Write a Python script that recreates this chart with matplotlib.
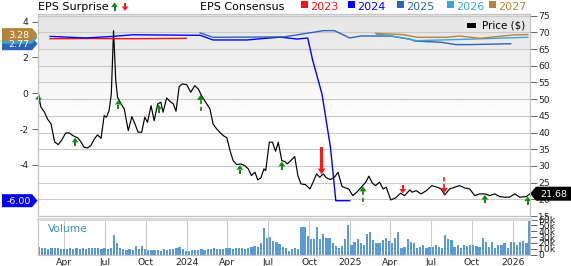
import numpy as np
import pandas as pd
import matplotlib
matplotlib.use("Agg")
import matplotlib.pyplot as plt
import matplotlib.dates as mdates
import matplotlib.transforms as mtransforms
from matplotlib.patches import Polygon, Rectangle
from matplotlib.lines import Line2D
from matplotlib.ticker import FixedLocator, FixedFormatter

plt.rcParams["font.family"] = ["DejaVu Sans"]
plt.rcParams["axes.unicode_minus"] = False

# ---------------- data ----------------
price_dates = [
    "2023-02-03", "2023-02-08", "2023-02-16", "2023-02-23", "2023-03-03", "2023-03-11", "2023-03-19", "2023-03-26", "2023-04-05", "2023-04-13",
    "2023-04-21", "2023-05-02", "2023-05-09", "2023-05-16", "2023-05-24", "2023-05-31", "2023-06-08", "2023-06-15", "2023-06-23", "2023-06-30",
    "2023-07-05", "2023-07-11", "2023-07-16", "2023-07-21", "2023-07-26", "2023-07-30", "2023-08-07", "2023-08-14", "2023-08-23", "2023-08-31",
    "2023-09-07", "2023-09-14", "2023-09-22", "2023-09-29", "2023-10-05", "2023-10-13", "2023-10-20", "2023-10-28", "2023-11-04", "2023-11-09",
    "2023-11-17", "2023-11-24", "2023-12-02", "2023-12-08", "2023-12-15", "2023-12-22", "2024-01-01", "2024-01-10", "2024-01-19", "2024-01-27",
    "2024-02-03", "2024-02-15", "2024-02-22", "2024-02-29", "2024-03-08", "2024-03-15", "2024-03-23", "2024-03-31", "2024-04-07", "2024-04-14",
    "2024-04-22", "2024-05-01", "2024-05-10", "2024-05-18", "2024-05-25", "2024-06-02", "2024-06-08", "2024-06-15", "2024-06-22", "2024-06-26",
    "2024-07-04", "2024-07-11", "2024-07-18", "2024-07-24", "2024-08-01", "2024-08-08", "2024-08-13", "2024-08-21", "2024-08-30", "2024-09-06",
    "2024-09-13", "2024-09-23", "2024-10-03", "2024-10-10", "2024-10-18", "2024-10-25", "2024-11-02", "2024-11-09", "2024-11-18", "2024-11-27",
    "2024-12-05", "2024-12-14", "2024-12-22", "2024-12-29", "2025-01-07", "2025-01-16", "2025-01-26", "2025-02-05", "2025-02-12", "2025-02-20",
    "2025-02-27", "2025-03-08", "2025-03-16", "2025-03-23", "2025-04-02", "2025-04-13", "2025-04-24", "2025-05-03", "2025-05-15", "2025-05-20",
    "2025-05-29", "2025-06-09", "2025-06-21", "2025-07-03", "2025-07-15", "2025-07-24", "2025-08-01", "2025-08-12", "2025-08-23", "2025-09-03",
    "2025-09-15", "2025-09-26", "2025-10-07", "2025-10-18", "2025-10-30", "2025-11-10", "2025-11-21", "2025-12-02", "2025-12-13", "2025-12-24",
    "2026-01-05", "2026-01-16", "2026-01-31", "2026-02-08",
]
prices = [
    51.56, 47.66, 46.17, 44.07, 42.57, 37.19, 36.38, 37.57, 39.88, 39.88,
    39.07, 38.38, 37.19, 35.60, 35.39, 36.08, 38.08, 39.28, 38.29, 45.06,
    44.58, 46.56, 51.56, 70.51, 55.54, 50.57, 48.56, 47.07, 40.57, 44.76,
    42.57, 40.09, 40.09, 44.58, 43.08, 48.05, 43.56, 48.56, 49.07, 46.08,
    50.36, 49.37, 48.56, 46.38, 53.74, 54.55, 54.34, 52.07, 54.04, 53.05,
    51.05, 48.56, 47.07, 42.57, 41.08, 40.09, 39.07, 38.38, 34.58, 31.59,
    30.39, 30.60, 30.09, 29.10, 27.10, 28.11, 25.81, 26.41, 29.10, 28.59,
    37.10, 37.10, 34.40, 37.10, 31.59, 31.29, 30.60, 31.59, 32.78, 27.10,
    24.61, 24.40, 23.11, 25.12, 27.60, 26.62, 27.60, 26.41, 25.90, 26.62,
    28.11, 23.80, 23.41, 23.11, 21.11, 22.13, 23.62, 25.12, 26.92, 24.82,
    24.10, 25.12, 23.11, 23.62, 19.82, 20.42, 21.83, 21.11, 22.81, 22.13,
    22.60, 21.62, 22.60, 24.10, 23.62, 23.11, 21.32, 23.11, 23.62, 24.10,
    23.41, 23.11, 21.11, 21.62, 21.62, 21.11, 21.62, 20.81, 20.63, 20.63,
    21.62, 20.63, 20.81, 21.68,
]

# weekly volume (thousands of shares)
volume_start = "2023-02-04"
volume_k = [
    13.3, 12, 10.4, 8.7, 10.4, 12, 10.4, 9.2, 8.7, 9.2,
    10.4, 9.2, 10.4, 9.2, 10.4, 9.2, 10.4, 11.5, 10.4, 12,
    9.2, 12, 9.2, 12, 33, 19, 12, 9.2, 7.5, 8.7,
    7.5, 14.4, 8.7, 15, 8.7, 7.5, 7.5, 6.9, 7.5, 6.3,
    8.7, 7.5, 8.7, 8.7, 10.4, 13.3, 8.7, 6.3, 6.3, 7.5,
    7.5, 7.5, 8.7, 7.5, 8.7, 9.2, 10.4, 8.7, 9.2, 8.7,
    10.4, 12, 8.7, 12, 10.4, 12, 8.7, 12, 13.3, 15,
    13.3, 20, 46, 28, 30, 24, 22, 18, 13,
    10.4, 6.3, 8.7, 10.4, 8.7, 48, 48, 32, 26.5,
    26.5, 47, 26.5, 36, 29, 27.7, 19, 15, 11.5, 15,
    26.5, 51, 17, 20.8, 26, 19, 16, 36, 38, 24.8,
    20, 19, 24.8, 29, 23, 19, 27.7, 39, 12, 13,
    26.5, 20.8, 19, 10.4, 13, 17, 10.4, 13, 13, 16,
    13, 12, 33, 26, 24.8, 13, 16, 12, 16, 15,
    17, 16, 15, 13, 29, 20.8, 13, 22, 12, 17,
    16, 19, 12, 20.8, 20.8, 17, 22, 24, 19, 58,
]

# EPS consensus by fiscal year
cons_2023_dates = ["2023-03-01", "2023-06-01", "2023-09-01", "2023-12-31"]
cons_2023 = [3.05, 3.06, 3.05, 3.07]
cons_2024_dates = ["2023-03-01", "2023-05-20", "2023-07-20", "2023-09-02", "2024-01-31", "2024-02-29",
                   "2024-05-15", "2024-07-28", "2024-09-04", "2024-09-28", "2024-10-09", "2024-10-30",
                   "2024-11-18", "2024-11-30", "2024-12-31"]
cons_2024 = [3.18, 3.09, 3.18, 3.27, 3.24, 2.98, 2.98, 3.14, 3.03, 3.09, 1.86, -0.04, -3.02, -6.00, -6.00]
cons_2025_dates = ["2024-01-31", "2024-02-29", "2024-08-06", "2024-11-03", "2024-11-27", "2024-12-31",
                   "2025-01-25", "2025-04-01", "2025-05-15", "2025-05-26", "2025-07-24", "2025-08-26",
                   "2025-09-27", "2025-12-27"]
cons_2025 = [3.37, 3.13, 3.15, 3.50, 3.50, 3.09, 3.20, 3.20, 3.03, 2.92, 2.85, 2.72, 2.72, 2.77]
cons_2026_dates = ["2025-03-02", "2025-04-01", "2025-05-31", "2025-09-20", "2026-02-03"]
cons_2026 = [3.30, 3.22, 2.94, 3.02, 3.13]
cons_2027_dates = ["2025-02-27", "2025-04-29", "2025-05-31", "2025-08-06", "2025-09-04", "2025-10-19",
                   "2026-01-01", "2026-02-03"]
cons_2027 = [3.35, 3.28, 3.13, 3.13, 3.20, 3.07, 3.26, 3.28]

years = ["2023", "2024", "2025", "2026", "2027"]
year_colors = ["#ff1010", "#0000ff", "#2a63b7", "#3ea3d8", "#b5843a"]

# EPS surprises: +1 beat (green up), -1 miss (red down)
surprise_dates = ["2023-02-03", "2023-04-26", "2023-08-01", "2023-10-30", "2024-02-01", "2024-04-29",
                  "2024-08-01", "2024-10-29", "2025-01-30", "2025-04-29", "2025-07-31", "2025-10-30",
                  "2026-02-03"]
surprise_dir = [1, 1, 1, 1, 1, 1, 1, -1, 1, -1, -1, 1, 1]
surprise_kind = ["small", "small", "small", "small", "dashed", "small", "small", "long",
                 "dashed", "small", "dashed", "small", "small"]

last_price = 21.68
last_eps = {"2025": 2.77, "2026": 3.13, "2027": 3.28, "2024": -6.00}

tick_dates = ["2023-04-01", "2023-07-01", "2023-10-01", "2024-01-01", "2024-04-01", "2024-07-01",
              "2024-10-01", "2025-01-01", "2025-04-01", "2025-07-01", "2025-10-01", "2026-01-01"]
tick_labels = ["Apr", "Jul", "Oct", "2024", "Apr", "Jul", "Oct", "2025", "Apr", "Jul", "Oct", "2026"]
eps_ticks = [-4, -2, 0, 2, 4]
price_ticks = [15, 20, 25, 30, 35, 40, 45, 50, 55, 60, 65, 70, 75]
vol_ticks = [0, 10000, 20000, 30000, 40000, 50000, 60000]
vol_tick_labels = ["0", "10k", "20k", "30k", "40k", "50k", "60k"]

# ---------------- layout ----------------
W, H = 571, 266
fig = plt.figure(figsize=(W / 100, H / 100), dpi=100)
fig.patch.set_facecolor("white")

def fx(px):
    return px / W

def fy(py):
    return 1 - py / H

# figure-pixel transform (x right, y down from top)
figpx = mtransforms.Affine2D().scale(1 / 100, -1 / 100).translate(0, H / 100) + fig.dpi_scale_trans

L, R = 38, 530
T_main, B_main = 14, 216
T_vol, B_vol = 219, 254.5

ax = fig.add_axes([fx(L), fy(B_main), (R - L) / W, (B_main - T_main) / H])
axp = ax.twinx()
axv = fig.add_axes([fx(L), fy(B_vol), (R - L) / W, (B_vol - T_vol) / H], sharex=ax)

ax.set_zorder(3)
axp.set_zorder(2)
ax.patch.set_visible(False)

xmin = pd.Timestamp("2023-02-01 18:00")
xmax = pd.Timestamp("2026-02-08 02:00")

# gradient background
t = np.linspace(0, 1, 200)  # 0 top -> 1 bottom
g = np.clip(0.895 + (1 - 0.895) * t / 0.55, 0, 1)
grad = np.column_stack([g, g])
axp.imshow(grad, cmap="gray", vmin=0, vmax=1, aspect="auto", extent=(0, 1, 0, 1),
           transform=axp.transAxes, zorder=0, interpolation="bilinear")

grid_c = "#c9c9c9"
axp.grid(True, color=grid_c, lw=0.8)
axv.grid(True, axis="x", color=grid_c, lw=0.8)
axv.grid(False, axis="y")

# price line
pdates = pd.to_datetime(price_dates)
axp.plot(pdates, prices, color="black", lw=0.85, zorder=4)

# consensus lines
cons = [(cons_2023_dates, cons_2023), (cons_2024_dates, cons_2024), (cons_2025_dates, cons_2025),
        (cons_2026_dates, cons_2026), (cons_2027_dates, cons_2027)]
for (d, v), c in zip(cons, year_colors):
    ax.plot(pd.to_datetime(d), v, color=c, lw=1.0, zorder=3)

# volume
vdates = pd.date_range(volume_start, periods=len(volume_k), freq="7D")
axv.bar(vdates, np.array(volume_k) * 1000, width=5.0, color="#5b9bd5", zorder=2)

# ---------------- axes formatting ----------------
ax.set_xlim(xmin, xmax)
ax.set_ylim(-6.855, 4.43)
axp.set_ylim(15.0, 75.5)
axv.set_ylim(0, 61200)

tnums = mdates.date2num(pd.to_datetime(tick_dates))
axv.xaxis.set_major_locator(FixedLocator(tnums))
axv.xaxis.set_major_formatter(FixedFormatter(tick_labels))
ax.tick_params(axis="x", length=0, labelbottom=False)
axp.tick_params(axis="x", length=0, labelbottom=False)
axv.tick_params(axis="x", length=0, pad=2.5, labelsize=6.7, labelcolor="#222222")

ax.set_yticks(eps_ticks)
ax.set_yticklabels([str(v) for v in eps_ticks])
ax.tick_params(axis="y", length=4.3, width=0.7, color="#666666", pad=2.5, labelsize=6.7,
               labelcolor="#222222")
axp.set_yticks(price_ticks)
axp.set_yticklabels([str(v) for v in price_ticks])
axp.tick_params(axis="y", length=5, width=0.7, color="#666666", pad=1, labelsize=6.7,
                labelcolor="#222222")

axv.yaxis.tick_right()
axv.set_yticks(vol_ticks)
axv.set_yticklabels(vol_tick_labels)
axv.tick_params(axis="y", length=5, width=0.7, color="#666666", pad=1, labelsize=6.7,
                labelcolor="#222222")

for a in (ax, axp):
    for s in a.spines.values():
        s.set_color("#c4c4c4")
        s.set_linewidth(0.8)
for s in axv.spines.values():
    s.set_color("#c4c4c4")
    s.set_linewidth(0.8)
axv.spines["top"].set_color("#dadada")
axv.spines["top"].set_linewidth(2.2)

axv.text(10 / (R - L), 0.73, "Volume", transform=axv.transAxes, color="#3d8bd0",
         fontsize=7.7, va="center", ha="left")

# ---------------- surprise arrows ----------------
snums = mdates.date2num(pd.to_datetime(surprise_dates))
pnums = mdates.date2num(pdates)
green, red = "#138a13", "#ff1a1a"

def draw_arrow(axx, xd, yd, s, kind, color):
    tr = mtransforms.ScaledTranslation(xd, yd, axx.transData)
    if kind == "small":
        hh, hw, sw, total, dashed = 4.6, 6.8, 2.0, 8.6, False
    elif kind == "dashed":
        hh, hw, sw, total, dashed = 5.2, 7.2, 1.7, 18.5, True
    else:
        hh, hw, sw, total, dashed = 6.0, 7.6, 2.3, 28.0, False
    tip = -s * 1.0
    hb = tip - s * hh
    end = tip - s * total
    axx.add_patch(Polygon([(0, tip), (-hw / 2, hb), (hw / 2, hb)], closed=True, transform=tr,
                          facecolor=color, edgecolor="none", zorder=6, clip_on=False))
    if dashed:
        axx.add_line(Line2D([0, 0], [hb, end], transform=tr, color=color, lw=sw * 0.72,
                            dashes=(2.4, 1.6), zorder=6, clip_on=False))
    else:
        axx.add_patch(Polygon([(-sw / 2, hb), (sw / 2, hb), (sw / 2, end), (-sw / 2, end)],
                              closed=True, transform=tr, facecolor=color, edgecolor="none",
                              zorder=6, clip_on=False))

for xd, d, k in zip(snums, surprise_dir, surprise_kind):
    yd = float(np.interp(xd, pnums, prices))
    draw_arrow(axp, xd, yd, d, k, green if d > 0 else red)

# ---------------- value labels ----------------
def left_label(val, color, txt=None):
    tr = mtransforms.ScaledTranslation(0, val, ax.get_yaxis_transform())
    ax.add_patch(Polygon([(-36, 6.5), (-6, 6.5), (-0.5, 0), (-6, -6.5), (-36, -6.5)], closed=True,
                         transform=tr, facecolor=color, edgecolor="none", zorder=10, clip_on=False))
    if txt:
        ax.annotate(txt, xy=(0, val), xycoords=ax.get_yaxis_transform(), xytext=(-19, -0.5),
                    textcoords="offset pixels", ha="center", va="center", color="white",
                    fontsize=6.8, zorder=11, annotation_clip=False)

left_label(last_eps["2025"], year_colors[2], f"{last_eps['2025']:.2f}")
left_label(last_eps["2026"], year_colors[3])  # hidden behind the 2027 label
left_label(last_eps["2027"], year_colors[4], f"{last_eps['2027']:.2f}")
left_label(last_eps["2024"], "#0000ee", f"{last_eps['2024']:.2f}")

trp = mtransforms.ScaledTranslation(1, last_price, axp.get_yaxis_transform())
axp.add_patch(Polygon([(0, 0), (6, 7), (42, 7), (42, -7), (6, -7)], closed=True, transform=trp,
                      facecolor="black", edgecolor="none", zorder=10, clip_on=False))
axp.annotate(f"{last_price:.2f}", xy=(1, last_price), xycoords=axp.get_yaxis_transform(),
             xytext=(24, -0.5), textcoords="offset pixels", ha="center", va="center",
             color="white", fontsize=6.8, zorder=11, annotation_clip=False)

# ---------------- header ----------------
fig.text(fx(38), fy(10), "EPS Surprise", fontsize=8, va="baseline", ha="left", color="black")
fig.add_artist(Polygon([(114.5, 2.5), (111.2, 7), (117.8, 7)], closed=True, transform=figpx,
                       facecolor=green, edgecolor="none", zorder=20))
fig.add_artist(Rectangle((113.5, 7), 2, 4, transform=figpx, facecolor=green, edgecolor="none", zorder=20))
fig.add_artist(Polygon([(125, 11), (121.7, 6.5), (128.3, 6.5)], closed=True, transform=figpx,
                       facecolor=red, edgecolor="none", zorder=20))
fig.add_artist(Rectangle((124, 2.5), 2, 4, transform=figpx, facecolor=red, edgecolor="none", zorder=20))

fig.text(fx(200), fy(10), "EPS Consensus", fontsize=8, va="baseline", ha="left", color="black")
sq_x = [301, 348, 397, 447, 489]
for x0, yr, c in zip(sq_x, years, year_colors):
    fig.add_artist(Rectangle((x0, 1.3), 7, 7, transform=figpx, facecolor=c, edgecolor="none", zorder=20))
    fig.text(fx(x0 + 9), fy(9.5), yr, fontsize=8, va="baseline", ha="left", color=c)

# price legend
fig.add_artist(Rectangle((467, 23.3), 9, 4.2, transform=figpx, facecolor="black", edgecolor="none",
                         zorder=20))
fig.text(fx(482), fy(25.5), "Price ($)", fontsize=7.4, va="center", ha="left", color="black",
         zorder=20)

fig.savefig("out.png", dpi=100)
